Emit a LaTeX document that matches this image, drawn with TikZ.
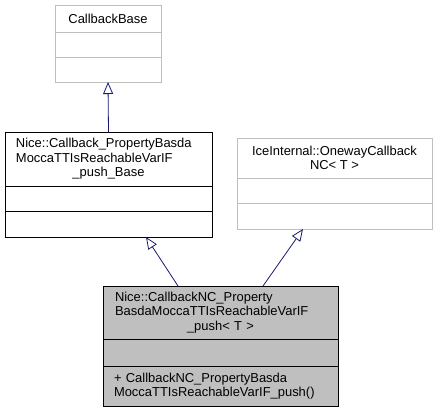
\documentclass[tikz,border=0pt]{standalone}
\usepackage{fontspec}
\setmainfont{Liberation Sans}
\usetikzlibrary{positioning,arrows.meta}

\definecolor{edgeblue}{HTML}{191970}
\definecolor{boxgray}{HTML}{BFBFBF}

\newcommand{\lastline}[1]{\makebox[\linewidth][c]{#1}}

\begin{document}
\begin{tikzpicture}[x=1bp,y=-1bp]
  \tikzset{
    every node/.style={rectangle,draw,inner sep=0pt,outer sep=0pt,line width=0.8bp,
      align=center,font=\fontsize{13}{14.5}\selectfont},
    extbox/.style={draw=boxgray,fill=white},
    curbox/.style={draw=black,fill=boxgray},
    inherit/.style={draw=edgeblue,line width=0.8bp,
      -{Triangle[open,fill=white,length=12bp,width=10bp]}}
  }
  \useasboundingbox (0,0) rectangle (437,412);

  % CallbackBase
  \node[extbox,anchor=north,minimum width=106bp,minimum height=27bp] (cbase) at (108,5) {CallbackBase};
  \node[extbox,minimum width=106bp,minimum height=25bp,below=0pt of cbase] (cbaseattr) {};
  \node[extbox,minimum width=106bp,minimum height=25bp,below=0pt of cbaseattr] (cbaseops) {};

  % Nice::Callback_..._Base
  \node[anchor=north,minimum height=54bp,inner xsep=11bp,text width=185bp,align=left] (pbase) at (108.5,132)
    {Nice::Callback\_PropertyBasda\\MoccaTTIsReachableVarIF\\\lastline{\_push\_Base}};
  \node[minimum width=207bp,minimum height=25bp,below=0pt of pbase] (pbaseattr) {};
  \node[minimum width=207bp,minimum height=26bp,below=0pt of pbaseattr] (pbaseops) {};

  % IceInternal::OnewayCallbackNC
  \node[extbox,anchor=north,minimum width=195bp,minimum height=40bp] (oneway) at (334.5,138)
    {IceInternal::OnewayCallback\\NC< T >};
  \node[extbox,minimum width=195bp,minimum height=25bp,below=0pt of oneway] (onewayattr) {};
  \node[extbox,minimum width=195bp,minimum height=26bp,below=0pt of onewayattr] (onewayops) {};

  % Nice::CallbackNC_...
  \node[curbox,anchor=north,minimum height=53bp,inner xsep=12bp,text width=211bp,align=left] (cbnc) at (220.5,286)
    {Nice::CallbackNC\_Property\\BasdaMoccaTTIsReachableVarIF\\\lastline{\_push< T >}};
  \node[curbox,minimum width=235bp,minimum height=27bp,below=0pt of cbnc] (cbncattr) {};
  \node[curbox,minimum height=40bp,inner xsep=11bp,text width=213bp,align=left,
    below=0pt of cbncattr] (cbncops)
    {+ CallbackNC\_PropertyBasda\\MoccaTTIsReachableVarIF\_push()};

  \draw[inherit] (pbase.north) -- (cbaseops.south);
  \draw[inherit] ([xshift=75bp]cbnc.north west) -- ([xshift=141bp]pbaseops.south west);
  \draw[inherit] ([xshift=160bp]cbnc.north west) -- ([xshift=66bp]onewayops.south west);
\end{tikzpicture}
\end{document}
